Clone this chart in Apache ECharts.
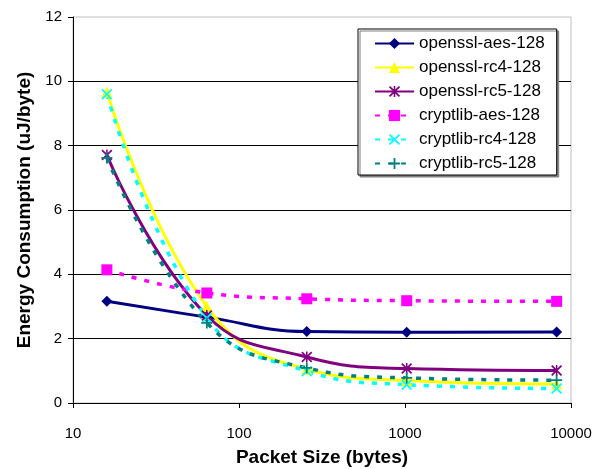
<!DOCTYPE html>
<html>
<head>
<meta charset="utf-8">
<script src="https://cdn.jsdelivr.net/npm/echarts@6/dist/echarts.min.js"></script>
<style>
  html, body { margin: 0; padding: 0; background: #fff; }
  #chart { width: 604px; height: 469px; }
</style>
</head>
<body>
<div id="chart"></div>
<script>
// Packet sizes (bytes) measured
const packetSizes = [16, 64, 256, 1024, 8192];

// Energy consumption per byte (uJ/byte) for each cipher implementation
const opensslAes128 = [3.16, 2.67, 2.22, 2.20, 2.21];
const opensslRc4128 = [9.67, 3.00, 1.05, 0.70, 0.59];
const opensslRc5128 = [7.71, 2.72, 1.43, 1.07, 1.01];
const cryptlibAes128 = [4.14, 3.42, 3.24, 3.18, 3.16];
const cryptlibRc4128 = [9.60, 2.64, 0.99, 0.57, 0.45];
const cryptlibRc5128 = [7.62, 2.49, 1.09, 0.78, 0.71];

const seriesNames = [
  'openssl-aes-128', 'openssl-rc4-128', 'openssl-rc5-128',
  'cryptlib-aes-128', 'cryptlib-rc4-128', 'cryptlib-rc5-128'
];

const FONT = "'Liberation Sans', Arial, sans-serif";

// Custom marker shapes: plus, cross and asterisk
const PLUS = 'path://M4.2,0h1.6v10h-1.6z M0,4.2h10v1.6h-10z';
const CROSS = 'path://M0,1.1L1.1,0L10,8.9L8.9,10Z M8.9,0L10,1.1L1.1,10L0,8.9Z';
const ASTERISK = 'path://M0,1.1L1.1,0L10,8.9L8.9,10Z M8.9,0L10,1.1L1.1,10L0,8.9Z M4.3,0h1.4v10h-1.4z';

function pairs(values) {
  return packetSizes.map((x, i) => [x, values[i]]);
}

function makeSeries(name, values, color, symbol, size, dashed) {
  return {
    name: name,
    type: 'line',
    data: pairs(values),
    smooth: 0.45,
    symbol: symbol,
    symbolSize: size,
    showAllSymbol: true,
    lineStyle: {
      color: color,
      width: dashed ? 3.5 : 3,
      type: dashed ? [5, 8] : 'solid',
      cap: 'butt'
    },
    itemStyle: { color: color, borderWidth: 0 },
    emphasis: { disabled: true },
    animation: false
  };
}

const chart = echarts.init(document.getElementById('chart'), null, { renderer: 'canvas' });

chart.setOption({
  backgroundColor: '#ffffff',
  animation: false,
  textStyle: { fontFamily: FONT },
  grid: {
    left: 73, right: 33, top: 17, bottom: 66,
    outerBoundsMode: 'none',
    containLabel: false,
    show: true,
    borderColor: '#c0c0c0',
    borderWidth: 1,
    backgroundColor: 'transparent'
  },
  legend: {
    orient: 'vertical',
    left: 358,
    top: 29,
    padding: [6, 12, 3, 16],
    itemWidth: 39,
    itemHeight: 14,
    itemGap: 7,
    backgroundColor: '#ffffff',
    borderColor: '#000000',
    borderWidth: 1,
    shadowColor: '#808080',
    shadowOffsetX: 2,
    shadowOffsetY: 2,
    shadowBlur: 0,
    textStyle: { fontFamily: FONT, fontSize: 17, color: '#000' },
    data: seriesNames
  },
  xAxis: {
    type: 'log',
    logBase: 10,
    min: 10,
    max: 10000,
    name: 'Packet Size (bytes)',
    nameLocation: 'middle',
    nameGap: 45,
    nameTextStyle: { fontFamily: FONT, fontSize: 19, fontWeight: 'bold', color: '#000' },
    axisLine: { show: true, lineStyle: { color: '#000', width: 1 } },
    axisTick: { show: true, inside: false, length: 5, lineStyle: { color: '#000' } },
    minorTick: { show: false },
    axisLabel: {
      fontFamily: FONT, fontSize: 15, color: '#000', margin: 23,
      formatter: v => String(Math.round(v))
    },
    splitLine: { show: false }
  },
  yAxis: {
    type: 'value',
    min: 0,
    max: 12,
    interval: 2,
    name: 'Energy Consumption (uJ/byte)',
    nameLocation: 'middle',
    nameGap: 38,
    nameTextStyle: { fontFamily: FONT, fontSize: 19, fontWeight: 'bold', color: '#000' },
    axisLine: { show: true, lineStyle: { color: '#000', width: 1 } },
    axisTick: { show: true, inside: false, length: 5, lineStyle: { color: '#000' } },
    axisLabel: { fontFamily: FONT, fontSize: 15, color: '#000', margin: 11 },
    splitLine: {
      show: true,
      showMinLine: false,
      showMaxLine: false,
      lineStyle: { color: '#000', width: 1 }
    }
  },
  series: [
    makeSeries(seriesNames[0], opensslAes128, '#000080', 'diamond', 11, false),
    makeSeries(seriesNames[1], opensslRc4128, '#FFFF00', 'triangle', 11, false),
    makeSeries(seriesNames[2], opensslRc5128, '#800080', ASTERISK, 11, false),
    makeSeries(seriesNames[3], cryptlibAes128, '#FF00FF', 'rect', 11, true),
    makeSeries(seriesNames[4], cryptlibRc4128, '#00FFFF', CROSS, 11, true),
    makeSeries(seriesNames[5], cryptlibRc5128, '#008080', PLUS, 11, true)
  ]
});
</script>
</body>
</html>
